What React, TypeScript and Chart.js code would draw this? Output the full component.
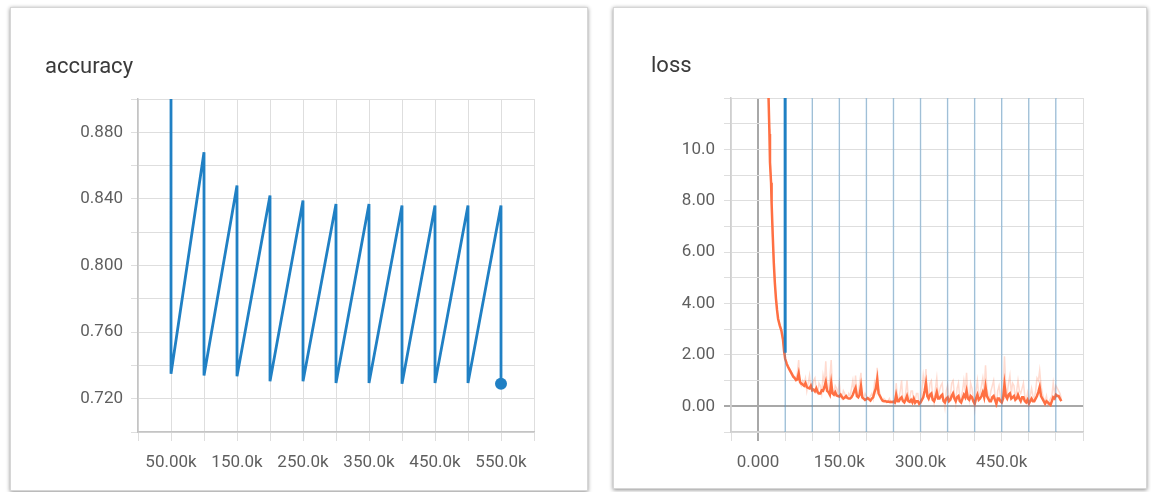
import React, { useEffect, useRef } from "react";
import { Chart, registerables } from "chart.js";

Chart.register(...registerables);

// ---------------- accuracy data ----------------
const accSteps = [50000, 100000, 150000, 200000, 250000, 300000, 350000, 400000, 450000, 500000, 550000];
const accPeaks = [0.92, 0.868, 0.848, 0.842, 0.839, 0.837, 0.837, 0.836, 0.836, 0.836, 0.836];
const accTroughs = [0.735, 0.734, 0.7335, 0.7305, 0.7305, 0.7295, 0.7295, 0.729, 0.7295, 0.7295, 0.729];

// ---------------- loss data (steps in thousands) ----------------
const lossStepsK = [
  19, 21, 22, 23, 24, 25, 27, 29, 31, 33, 35, 37, 40, 43, 46, 48, 50, 53,
  55, 57.5, 60, 62.5, 65, 67.5, 70, 72.5, 75, 77.5,
  80, 82.5, 85, 87.5, 90, 92.5, 95, 97.5, 100, 102.5,
  105, 107.5, 110, 112.5, 115, 117.5, 120, 122.5, 125, 127.5,
  130, 132.5, 135, 137.5, 140, 142.5, 145, 147.5, 150, 152.5,
  155, 157.5, 160, 162.5, 165, 167.5, 170, 172.5, 175, 177.5,
  180, 182.5, 185, 187.5, 190, 192.5, 195, 197.5, 200, 202.5,
  205, 207.5, 210, 212.5, 215, 217.5, 220, 222.5, 225, 227.5,
  230, 232.5, 235, 237.5, 240, 242.5, 245, 247.5, 250, 252.5,
  255, 257.5, 260, 262.5, 265, 267.5, 270, 272.5, 275, 277.5,
  280, 282.5, 285, 287.5, 290, 292.5, 295, 297.5, 300, 302.5,
  305, 307.5, 310, 312.5, 315, 317.5, 320, 322.5, 325, 327.5,
  330, 332.5, 335, 337.5, 340, 342.5, 345, 347.5, 350, 352.5,
  355, 357.5, 360, 362.5, 365, 367.5, 370, 372.5, 375, 377.5,
  380, 382.5, 385, 387.5, 390, 392.5, 395, 397.5, 400, 402.5,
  405, 407.5, 410, 412.5, 415, 417.5, 420, 422.5, 425, 427.5,
  430, 432.5, 435, 437.5, 440, 442.5, 445, 447.5, 450, 452.5,
  455, 457.5, 460, 462.5, 465, 467.5, 470, 472.5, 475, 477.5,
  480, 482.5, 485, 487.5, 490, 492.5, 495, 497.5, 500, 502.5,
  505, 507.5, 510, 512.5, 515, 517.5, 520, 522.5, 525, 527.5,
  530, 532.5, 535, 537.5, 540, 542.5, 545, 547.5, 550, 552.5,
  555, 557.5, 560,
];
const lossSmooth = [
  12.3, 10.6, 9.5, 9.1, 8.7, 7.9, 6.7, 5.6, 4.8, 4.2, 3.75, 3.4, 3.15, 2.95, 2.6, 2.15, 1.85, 1.65,
  1.55, 1.45, 1.35, 1.25, 1.15, 1.1, 1.02, 1.05, 1.28, 0.95,
  0.88, 0.85, 0.8, 0.9, 0.75, 0.72, 0.7, 0.8, 0.62, 0.65,
  0.58, 0.7, 0.55, 0.5, 0.5, 0.62, 0.6, 0.75, 0.95, 0.6,
  0.55, 0.45, 0.9, 0.5, 0.45, 0.55, 0.42, 0.4, 0.38, 0.45,
  0.36, 0.3, 0.34, 0.4, 0.32, 0.3, 0.3, 0.35, 0.45, 0.6,
  0.72, 0.4, 0.35, 0.45, 0.78, 0.35, 0.3, 0.25, 0.28, 0.32,
  0.27, 0.22, 0.3, 0.35, 0.55, 0.7, 1.05, 0.5, 0.4, 0.3,
  0.22, 0.2, 0.2, 0.18, 0.19, 0.17, 0.18, 0.16, 0.18, 0.15,
  0.45, 0.2, 0.2, 0.3, 0.35, 0.2, 0.15, 0.25, 0.4, 0.2,
  0.17, 0.25, 0.15, 0.3, 0.14, 0.2, 0.2, 0.1, 0.15, 0.25,
  0.35, 0.6, 0.9, 0.4, 0.3, 0.45, 0.5, 0.25, 0.2, 0.35,
  0.55, 0.3, 0.3, 0.4, 0.45, 0.2, 0.15, 0.3, 0.35, 0.2,
  0.25, 0.4, 0.5, 0.3, 0.2, 0.35, 0.4, 0.2, 0.15, 0.3,
  0.45, 0.35, 0.6, 0.3, 0.25, 0.4, 0.35, 0.2, 0.1, 0.3,
  0.45, 0.25, 0.3, 0.4, 0.55, 0.35, 0.75, 0.4, 0.3, 0.2,
  0.2, 0.35, 0.4, 0.25, 0.1, 0.3, 0.3, 0.2, 0.15, 0.3,
  0.85, 0.4, 0.3, 0.45, 0.5, 0.3, 0.35, 0.4, 0.25, 0.3,
  0.45, 0.3, 0.2, 0.35, 0.35, 0.2, 0.15, 0.25, 0.1, 0.2,
  0.3, 0.2, 0.2, 0.3, 0.4, 0.55, 0.75, 0.4, 0.3, 0.2,
  0.1, 0.2, 0.15, 0.1, 0.05, 0.2, 0.35, 0.3, 0.45, 0.4,
  0.4, 0.3, 0.2,
];
const lossRaw = [
  12.4, 10.8, 9.6, 9.2, 8.5, 8.0, 6.6, 5.7, 4.7, 4.3, 3.7, 3.5, 3.1, 3.0, 2.5, 2.2, 1.9, 1.6,
  1.6, 1.5, 1.4, 1.3, 1.2, 1.15, 1.1, 1.3, 1.8, 0.9,
  0.8, 1.0, 0.9, 1.1, 0.6, 0.9, 1.2, 0.7, 0.7, 1.0,
  1.1, 0.6, 0.5, 0.9, 0.8, 0.5, 1.2, 0.9, 1.75, 0.7,
  0.6, 1.1, 1.8, 0.6, 0.5, 0.8, 0.7, 0.5, 0.9, 0.4,
  0.3, 0.6, 0.5, 0.3, 0.3, 0.5, 0.4, 0.7, 1.0, 0.5,
  1.2, 0.5, 0.4, 0.9, 1.3, 0.3, 0.3, 0.5, 0.4, 0.3,
  0.3, 0.4, 0.5, 0.3, 0.9, 0.6, 1.5, 0.7, 0.5, 0.3,
  0.2, 0.3, 0.25, 0.15, 0.2, 0.3, 0.15, 0.2, 0.2, 0.1,
  0.9, 0.3, 0.3, 0.6, 1.0, 0.2, 0.2, 0.5, 1.0, 0.3,
  0.3, 0.6, 0.6, 0.2, 0.2, 0.5, 0.5, 0.05, 0.1, 0.6,
  1.2, 0.8, 1.45, 0.4, 0.4, 0.9, 1.0, 0.3, 0.1, 0.7,
  1.1, 0.4, 0.6, 0.8, 0.9, 0.3, -0.05, 0.6, 0.8, 0.3,
  0.4, 0.9, 1.0, 0.5, 0.1, 0.7, 0.9, 0.3, 0.3, 0.6,
  1.0, 0.6, 1.3, 0.4, 0.2, 0.9, 0.7, 0.3, -0.1, 0.6,
  1.0, 0.4, 0.5, 0.8, 1.1, 0.6, 1.6, 0.7, 0.4, 0.3,
  0.6, 0.8, 1.0, 0.4, -0.05, 0.6, 0.8, 0.4, 0.2, 0.5,
  1.95, 0.7, 0.5, 0.9, 1.2, 0.5, 0.9, 0.8, 0.3, 0.6,
  1.0, 0.6, 0.5, 0.7, 0.9, 0.4, 0.2, 0.5, 0.05, 0.4,
  0.7, 0.4, 0.3, 0.6, 1.1, 1.0, 1.4, 0.8, 0.5, 0.3,
  0.2, 0.4, 0.05, 0.2, 0.3, 0.4, 0.9, 0.5, 0.8, 0.7,
  0.6, 0.5, 0.3,
];

// blue run in the loss chart: raw spikes run off both ends of the axis
const blueRawSteps = [50000, 100000, 150000, 200000, 250000, 300000, 350000, 400000, 450000, 500000, 550000];
const blueRawHigh = [40, 40, 40, 40, 40, 40, 40, 40, 40, 40, 40];
const blueRawLow = [-40, -40, -40, -40, -40, -40, -40, -40, -40, -40, -40];
const blueSmoothSteps = [50000, 50000];
const blueSmoothValues = [40, 2.08];

// ---------------- styling ----------------
const BLUE = "rgb(32,128,196)";
const ORANGE = "rgb(255,112,67)";
const FONT = "Roboto, 'Noto Sans', Arial, sans-serif";
const TICK_COLOR = "#5f5f5f";
const GRID = "#dedede";

function fmtK(v: number): string {
  if (v === 0) return "0.000";
  return (v / 1000).toPrecision(4) + "k";
}

function useChart(ref: React.RefObject<HTMLCanvasElement | null>, makeConfig: () => any) {
  useEffect(() => {
    if (!ref.current) return;
    const chart = new Chart(ref.current, makeConfig());
    return () => chart.destroy();
  }, []);
}

function accuracyConfig() {
  const pts: { x: number; y: number }[] = [];
  accSteps.forEach((s, i) => {
    pts.push({ x: s, y: accPeaks[i] });
    pts.push({ x: s, y: accTroughs[i] });
  });
  const last = pts.length - 1;
  return {
    type: "scatter",
    data: {
      datasets: [
        {
          data: pts,
          showLine: true,
          borderColor: BLUE,
          backgroundColor: BLUE,
          borderWidth: 2.8,
          pointRadius: (ctx: any) => (ctx.dataIndex === last ? 6 : 0),
          pointHoverRadius: 0,
          pointBorderWidth: 0,
          tension: 0,
        },
      ],
    },
    options: {
      animation: false,
      responsive: false,
      events: [],
      layout: { padding: { left: 20, top: 92, right: 54, bottom: 10 } },
      plugins: { legend: { display: false }, tooltip: { enabled: false } },
      scales: {
        x: {
          type: "linear",
          min: 0,
          max: 600000,
          ticks: {
            stepSize: 50000,
            autoSkip: false,
            maxRotation: 0,
            padding: 12,
            color: TICK_COLOR,
            font: { family: FONT, size: 17 },
            callback: (v: any) => (Math.round(Number(v) / 50000) % 2 === 1 ? fmtK(Number(v)) : ""),
          },
          grid: { color: GRID, tickLength: 9, lineWidth: 1 },
          border: { color: "#c4c4c4", width: 1.5 },
          afterFit: (s: any) => {
            s.height = 48;
          },
        },
        y: {
          type: "linear",
          min: 0.7,
          max: 0.9,
          ticks: {
            stepSize: 0.02,
            autoSkip: false,
            padding: 8,
            color: TICK_COLOR,
            font: { family: FONT, size: 17 },
            callback: (v: any) => (Math.round(Number(v) * 100) % 4 === 0 ? Number(v).toPrecision(3) : ""),
          },
          grid: { color: GRID, tickLength: 7, lineWidth: 1 },
          border: { color: "#c4c4c4", width: 1.5 },
          afterFit: (s: any) => {
            s.width = 108;
          },
        },
      },
    },
  };
}

function lossConfig() {
  const smooth = lossStepsK.map((k, i) => ({ x: k * 1000, y: lossSmooth[i] }));
  const raw = lossStepsK.map((k, i) => ({ x: k * 1000, y: lossRaw[i] }));
  const blueRaw: { x: number; y: number | null }[] = [];
  blueRawSteps.forEach((s, i) => {
    blueRaw.push({ x: s, y: blueRawHigh[i] });
    blueRaw.push({ x: s, y: blueRawLow[i] });
    blueRaw.push({ x: s, y: null });
  });
  const blueSmooth = blueSmoothSteps.map((s, i) => ({ x: s, y: blueSmoothValues[i] }));
  const base = { showLine: true, pointRadius: 0, pointHoverRadius: 0, tension: 0, spanGaps: false };
  return {
    type: "scatter",
    data: {
      datasets: [
        { ...base, data: blueRaw, borderColor: "rgba(32,128,196,0.33)", borderWidth: 1.5 },
        { ...base, data: raw, borderColor: "rgba(255,112,67,0.25)", borderWidth: 1.5 },
        { ...base, data: blueSmooth, borderColor: BLUE, borderWidth: 3 },
        { ...base, data: smooth, borderColor: ORANGE, borderWidth: 2.5 },
      ],
    },
    options: {
      animation: false,
      responsive: false,
      events: [],
      layout: { padding: { left: 20, top: 91, right: 64, bottom: 10 } },
      plugins: { legend: { display: false }, tooltip: { enabled: false } },
      scales: {
        x: {
          type: "linear",
          min: -50000,
          max: 600000,
          ticks: {
            stepSize: 50000,
            autoSkip: false,
            maxRotation: 0,
            padding: 12,
            color: TICK_COLOR,
            font: { family: FONT, size: 17 },
            callback: (v: any) => {
              const n = Number(v);
              return n >= 0 && n < 600000 && Math.round(n) % 150000 === 0 ? fmtK(n) : "";
            },
          },
          grid: {
            color: (ctx: any) => (ctx.tick && ctx.tick.value === 0 ? "#a8a8a8" : GRID),
            lineWidth: (ctx: any) => (ctx.tick && ctx.tick.value === 0 ? 2 : 1),
            tickLength: 9,
          },
          border: { color: "#cfcfcf", width: 1.5 },
          afterFit: (s: any) => {
            s.height = 46;
          },
        },
        y: {
          type: "linear",
          min: -1,
          max: 12,
          ticks: {
            stepSize: 1,
            autoSkip: false,
            padding: 9,
            color: TICK_COLOR,
            font: { family: FONT, size: 17 },
            callback: (v: any) => {
              const n = Math.round(Number(v));
              return n >= 0 && n <= 10 && n % 2 === 0 ? n.toPrecision(3) : "";
            },
          },
          grid: {
            color: (ctx: any) => (ctx.tick && ctx.tick.value === 0 ? "#a8a8a8" : GRID),
            lineWidth: (ctx: any) => (ctx.tick && ctx.tick.value === 0 ? 2 : 1),
            tickLength: 7,
          },
          border: { color: "#cfcfcf", width: 1.5 },
          afterFit: (s: any) => {
            s.width = 98;
          },
        },
      },
    },
  };
}

const panelStyle: React.CSSProperties = {
  position: "absolute",
  background: "#fff",
  border: "1px solid #d6d6d6",
  boxShadow: "0 1px 4px rgba(0,0,0,0.45)",
  boxSizing: "border-box",
};

const titleStyle: React.CSSProperties = {
  position: "absolute",
  fontFamily: FONT,
  fontSize: 22,
  lineHeight: "22px",
  color: "#3a3a3a",
  whiteSpace: "nowrap",
};

export default function App() {
  const accRef = useRef<HTMLCanvasElement>(null);
  const lossRef = useRef<HTMLCanvasElement>(null);
  useChart(accRef, accuracyConfig);
  useChart(lossRef, lossConfig);

  return (
    <div style={{ position: "absolute", left: 0, top: 0, width: 1151, height: 492, background: "#fff", overflow: "hidden" }}>
      <div style={{ ...panelStyle, left: 10, top: 7, width: 578, height: 484 }} />
      <div style={{ ...panelStyle, left: 613, top: 7, width: 534, height: 482 }} />
      <canvas ref={accRef} width={578} height={483} style={{ position: "absolute", left: 10, top: 7, width: 578, height: 483 }} />
      <canvas ref={lossRef} width={534} height={481} style={{ position: "absolute", left: 613, top: 7, width: 534, height: 481 }} />
      <div style={{ ...titleStyle, left: 45, top: 55 }}>accuracy</div>
      <div style={{ ...titleStyle, left: 651, top: 54 }}>loss</div>
    </div>
  );
}
